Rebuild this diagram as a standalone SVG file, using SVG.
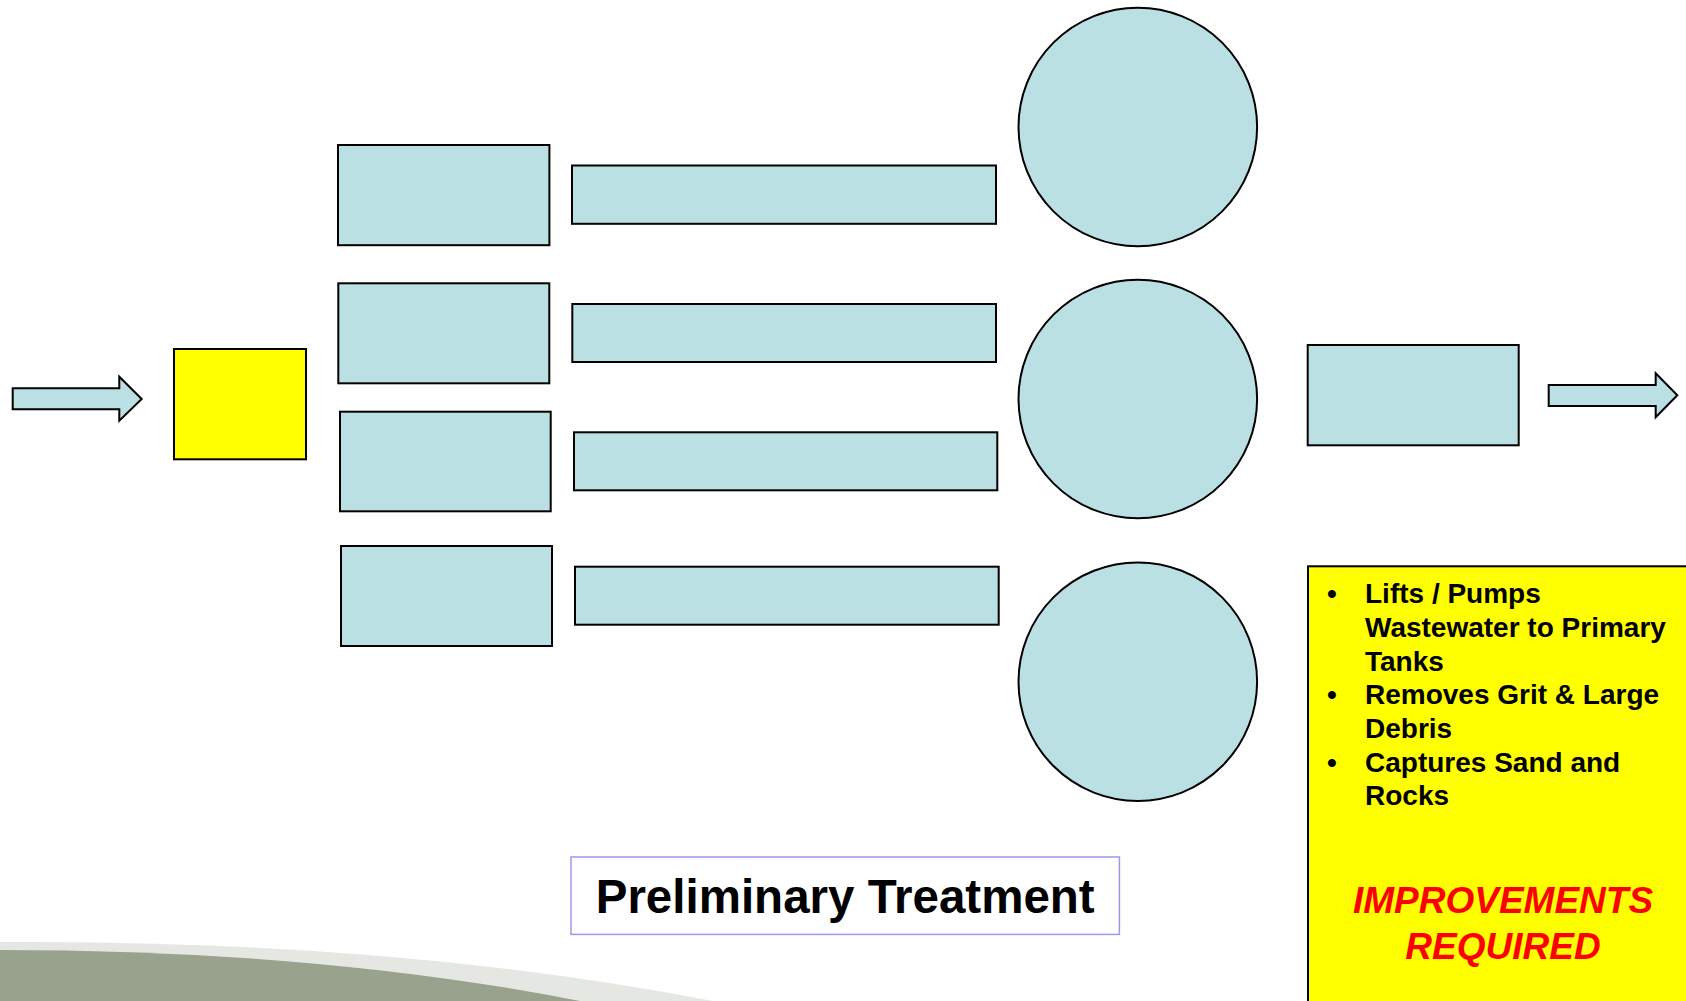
<svg xmlns="http://www.w3.org/2000/svg" width="1686" height="1001" viewBox="0 0 1686 1001">
<style>
.blue{fill:#bbe0e3;stroke:#000;stroke-width:2}
.yel{fill:#ffff00;stroke:#000;stroke-width:2}
.bul{font-family:"Liberation Sans",Arial,sans-serif;font-weight:bold;font-size:28px;fill:#000}
.imp{font-family:"Liberation Sans",Arial,sans-serif;font-weight:bold;font-style:italic;font-size:37px;fill:#ff0000;text-anchor:middle}
.title{font-family:"Liberation Sans",Arial,sans-serif;font-weight:bold;font-size:47.5px;fill:#000;text-anchor:middle}
</style>
<rect width="1686" height="1001" fill="#ffffff"/>
<g id="background-swoosh">
<path d="M0,942 Q400,940 713,1001 L0,1001 Z" fill="#e5e8e2"/>
<path d="M0,950 Q320,950 580,1001 L0,1001 Z" fill="#98a28c"/>
</g>
<g id="connectors">
<polygon class="blue" points="12.7,388.3 119.3,388.3 119.3,376.7 141.7,399 119.3,420.7 119.3,409.3 12.7,409.3"/>
<polygon class="blue" points="1548.7,385 1655.7,385 1655.7,373.3 1677.3,395.3 1655.7,417.3 1655.7,406 1548.7,406"/>
</g>
<g id="influent-box"><rect class="yel" x="174" y="349" width="132" height="110.3"/></g>
<g id="unit-a1"><rect class="blue" x="338" y="145" width="211.4" height="100.2"/></g>
<g id="unit-a2"><rect class="blue" x="338.3" y="283.3" width="211" height="100"/></g>
<g id="unit-a3"><rect class="blue" x="340" y="411.7" width="210.7" height="99.6"/></g>
<g id="unit-a4"><rect class="blue" x="341" y="546" width="211" height="100"/></g>
<g id="channel-1"><rect class="blue" x="572" y="165.5" width="424" height="58.3"/></g>
<g id="channel-2"><rect class="blue" x="572.3" y="304" width="423.7" height="58"/></g>
<g id="channel-3"><rect class="blue" x="574" y="432.3" width="423.3" height="58"/></g>
<g id="channel-4"><rect class="blue" x="575" y="566.7" width="423.7" height="58"/></g>
<g id="tank-1"><circle class="blue" cx="1137.8" cy="127" r="119.3"/></g>
<g id="tank-2"><circle class="blue" cx="1137.8" cy="399" r="119.3"/></g>
<g id="tank-3"><circle class="blue" cx="1137.8" cy="681.7" r="119.3"/></g>
<g id="outlet-box"><rect class="blue" x="1307.7" y="345" width="211" height="100.3"/></g>
<g id="notes">
<rect class="yel" x="1308" y="566.3" width="400" height="450"/>
<text class="bul" x="1327" y="603.3">•</text>
<text class="bul" x="1365" y="603.3">Lifts / Pumps</text>
<text class="bul" x="1365" y="637.3">Wastewater to Primary</text>
<text class="bul" x="1365" y="670.5">Tanks</text>
<text class="bul" x="1327" y="704">•</text>
<text class="bul" x="1365" y="704">Removes Grit &amp; Large</text>
<text class="bul" x="1365" y="737.5">Debris</text>
<text class="bul" x="1327" y="771.5">•</text>
<text class="bul" x="1365" y="771.5">Captures Sand and</text>
<text class="bul" x="1365" y="805">Rocks</text>
<text class="imp" x="1503" y="913.3">IMPROVEMENTS</text>
<text class="imp" x="1503" y="959.3">REQUIRED</text>
</g>
<g id="title">
<rect x="571" y="857" width="548.4" height="77.4" fill="#ffffff" stroke="#9a9aea" stroke-width="1.5"/>
<text class="title" x="845.2" y="913.3">Preliminary Treatment</text>
</g>
</svg>
